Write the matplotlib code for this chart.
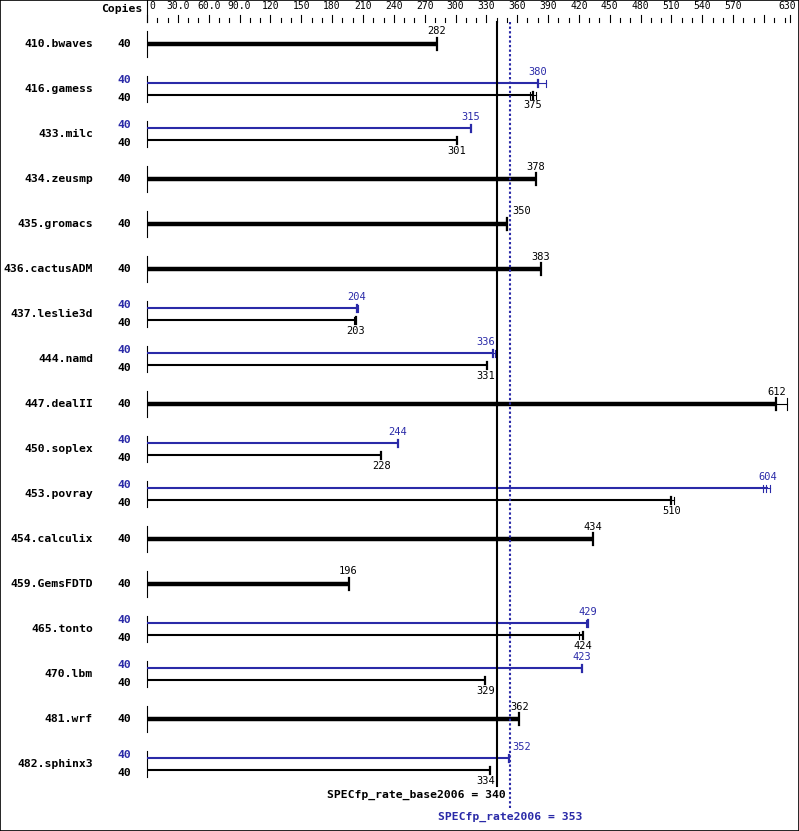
import numpy as np
import matplotlib
matplotlib.use("Agg")
import matplotlib.pyplot as plt

# ---------------- DATA ----------------
benchmarks = ["410.bwaves", "416.gamess", "433.milc", "434.zeusmp", "435.gromacs",
              "436.cactusADM", "437.leslie3d", "444.namd", "447.dealII", "450.soplex",
              "453.povray", "454.calculix", "459.GemsFDTD", "465.tonto", "470.lbm",
              "481.wrf", "482.sphinx3"]
base_copies = [40] * 17
peak_copies = [None, 40, 40, None, None, None, 40, 40, None, 40, 40, None, None, 40, 40, None, 40]

base_ratio = [282, 375, 301, 378, 350, 383, 203, 331, 612, 228, 510, 434, 196, 424, 329, 362, 334]
peak_ratio = [None, 380, 315, None, None, None, 204, 336, None, 244, 604, None, None, 429, 423, None, 352]

# individual run results (tick marks)
base_runs = [[282], [372, 375, 378], [301], [378], [349, 350], [383], [201, 203], [331],
             [612, 622], [228], [510, 512], [434], [196], [420, 424], [329], [362], [334]]
peak_runs = [None, [380, 388], [315], None, None, None, [204, 205], [336, 338], None, [244],
             [599, 602, 606], None, None, [427, 429], [423], None, [352]]

base_overall = 340
peak_overall = 353
base_label = "SPECfp_rate_base2006 = 340"
peak_label = "SPECfp_rate2006 = 353"

tick_vals = list(range(0, 630, 10))
major_vals = list(range(0, 600, 30))
major_labels = ["0", "30.0", "60.0", "90.0"] + [str(v) for v in range(120, 600, 30)]
axis_end = 625
axis_end_label = "630"

# ---------------- LAYOUT ----------------
W, H = 799, 831
X0 = 147            # pixel of value 0
S = 290 / 282       # pixels per unit
ROW0, ROWH = 44, 45  # first row centre, row spacing in pixels
BLUE = "#2a2aa8"
MONO = "DejaVu Sans Mono"


def px(p):
    return p / S


def py(p):
    return p / ROWH


fig = plt.figure(figsize=(W / 100, H / 100), dpi=100)
ax = fig.add_axes([0, 0, 1, 1])
ax.set_xlim(-X0 / S, (W - X0) / S)
ax.set_ylim((H - ROW0) / ROWH, -ROW0 / ROWH)
ax.set_xticks([])
ax.set_yticks([])
for sp in ax.spines.values():
    sp.set_linewidth(1.2)
    sp.set_color("black")

# top scale
top_y = py(22 - ROW0)
ax.plot([0, 0], [py(0 - ROW0), top_y], color="black", lw=0.8)
for v in tick_vals + [axis_end]:
    y1 = py(15 - ROW0) if (v % 30 == 0 or v == axis_end) else py(18.5 - ROW0)
    ax.plot([v, v], [y1, top_y], color="black", lw=0.8)
for v, lab in zip(major_vals, major_labels):
    ax.text(v + (px(2) if v == 0 else 0), py(6 - ROW0), lab, ha="left" if v == 0 else "center",
            va="center", fontsize=7, family=MONO)
ax.text(axis_end + px(6), py(6 - ROW0), axis_end_label, ha="right", va="center",
        fontsize=7, family=MONO)
ax.text(-px(5), py(9 - ROW0), "Copies", ha="right", va="center", fontsize=8.2,
        family=MONO, fontweight="bold")

# overall reference lines
ax.plot([base_overall, base_overall], [top_y, py(786 - ROW0)], color="black", lw=1.5, zorder=3)
ax.plot([peak_overall, peak_overall], [top_y, py(808 - ROW0)], color=BLUE, lw=1.5,
        linestyle=(0, (1.1, 1.1)), zorder=3)


def value_text(x, y, val, color):
    ha, xx = "center", val
    half = px(9)
    if val < base_overall and val + half > base_overall - px(2):
        ha, xx = "right", base_overall - px(2)
    elif base_overall - px(2) < val < peak_overall + px(2):
        ha, xx = "left", peak_overall + px(2)
    ax.text(xx, y, str(val), ha=ha, va="center", fontsize=7.5, family=MONO, color=color)


def draw_bar(y, val, runs, color, thick, tick_h):
    ax.plot([0, val], [y, y], color=color, lw=3.2 if thick else 1.5,
            solid_capstyle="butt", zorder=2)
    if max(runs) > val:
        ax.plot([val, max(runs)], [y, y], color=color, lw=0.8, zorder=2)
    for r in runs:
        ax.plot([r, r], [y - tick_h, y + tick_h], color=color,
                lw=1.6 if r == val else 0.8, zorder=2)


for i, name in enumerate(benchmarks):
    ax.plot([0, 0], [i - py(13), i + py(13)], color="black", lw=0.8)
    ax.text(-px(54), i, name, ha="right", va="center", fontsize=8.2, family=MONO,
            fontweight="bold")
    if peak_ratio[i] is None:
        ax.text(-px(16), i, str(base_copies[i]), ha="right", va="center", fontsize=8.2,
                family=MONO, fontweight="bold")
        draw_bar(i, base_ratio[i], base_runs[i], "black", True, py(6))
        value_text(base_ratio[i], i - py(12.5), base_ratio[i], "black")
    else:
        ax.text(-px(16), i - py(9), str(peak_copies[i]), ha="right", va="center",
                fontsize=8.2, family=MONO, fontweight="bold", color=BLUE)
        ax.text(-px(16), i + py(9), str(base_copies[i]), ha="right", va="center",
                fontsize=8.2, family=MONO, fontweight="bold")
        draw_bar(i - py(6), peak_ratio[i], peak_runs[i], BLUE, False, py(3.5))
        draw_bar(i + py(6), base_ratio[i], base_runs[i], "black", False, py(3.5))
        value_text(peak_ratio[i], i - py(17), peak_ratio[i], BLUE)
        value_text(base_ratio[i], i + py(16.5), base_ratio[i], "black")

ax.text(base_overall + px(9), py(795 - ROW0), base_label, ha="right", va="center",
        fontsize=8.2, family=MONO, fontweight="bold")
ax.text(peak_overall, py(817 - ROW0), peak_label, ha="center", va="center",
        fontsize=8.2, family=MONO, fontweight="bold", color=BLUE)

fig.savefig("out.png", dpi=100)
